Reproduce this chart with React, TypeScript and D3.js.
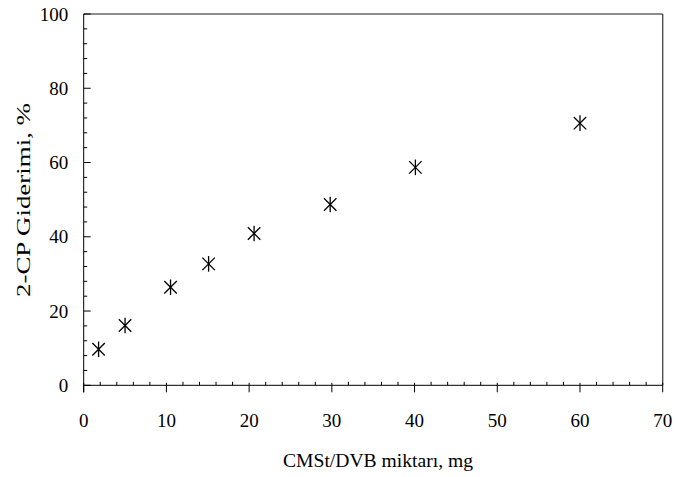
import React from "react";
import * as d3 from "d3";

const amounts = [1.8, 5, 10.5, 15.1, 20.6, 29.8, 40.1, 60];
const removal = [9.7, 16.1, 26.4, 32.7, 40.9, 48.7, 58.7, 70.6];
const xTicks = [0, 10, 20, 30, 40, 50, 60, 70];
const yTicks = [0, 20, 40, 60, 80, 100];
const xTitle = "CMSt/DVB miktarı, mg";
const yTitle = "2-CP Giderimi, %";

const W = 678, H = 477;
const L = 83.7, R = 662.7, T = 14, B = 385.3;
const FONT = "'Liberation Serif', 'Times New Roman', serif";

export default function App() {
  const x = d3.scaleLinear().domain([0, 70]).range([L, R]);
  const y = d3.scaleLinear().domain([0, 100]).range([B, T]);
  const xMinor = d3.range(0, 70.001, 2).filter((v) => Math.round(v) % 10 !== 0);
  const yMinor = d3.range(0, 100.001, 4).filter((v) => Math.round(v) % 20 !== 0);
  const s = 7.8;
  const d = s * 0.8;
  return (
    <svg width={W} height={H} style={{ position: "absolute", left: 0, top: 0, background: "#fff" }} fontFamily={FONT}>
      <rect x={0} y={0} width={W} height={H} fill="#fff" />
      <line x1={L} x2={R} y1={T} y2={T} stroke="#666" strokeWidth={1.3} />
      <line x1={R} x2={R} y1={T} y2={B} stroke="#444" strokeWidth={1.3} />
      <line x1={L} x2={R} y1={B} y2={B} stroke="#000" strokeWidth={1} />
      <line x1={L} x2={L} y1={T} y2={B + 7} stroke="#000" strokeWidth={1} />
      {xMinor.map((v) => (
        <line key={"xm" + v} x1={x(v)} x2={x(v)} y1={B} y2={B - 3.5} stroke="#000" />
      ))}
      {xTicks.map((v) => (
        <g key={"xt" + v}>
          <line x1={x(v)} x2={x(v)} y1={B - 2.5} y2={B + 7} stroke="#000" />
          <text x={x(v)} y={426.7} textAnchor="middle" fontSize={19}>{v}</text>
        </g>
      ))}
      {yMinor.map((v) => (
        <line key={"ym" + v} x1={L} x2={L + 3.5} y1={y(v)} y2={y(v)} stroke="#000" />
      ))}
      {yTicks.map((v) => (
        <g key={"yt" + v}>
          <line x1={L} x2={L + 7} y1={y(v)} y2={y(v)} stroke="#000" />
          <text x={68.3} y={y(v) + 6.5} textAnchor="end" fontSize={19}>{v}</text>
        </g>
      ))}
      {amounts.map((a, i) => {
        const cx = x(a), cy = y(removal[i]);
        return (
          <g key={"p" + i} stroke="#000" strokeWidth={1.3}>
            <line x1={cx} x2={cx} y1={cy - s} y2={cy + s} />
            <line x1={cx - d} x2={cx + d} y1={cy - d} y2={cy + d} />
            <line x1={cx - d} x2={cx + d} y1={cy + d} y2={cy - d} />
          </g>
        );
      })}
      <text x={378} y={466.7} textAnchor="middle" fontSize={19} textLength={190} lengthAdjust="spacingAndGlyphs">{xTitle}</text>
      <text transform={`translate(30,200) rotate(-90)`} textAnchor="middle" fontSize={19} textLength={194} lengthAdjust="spacingAndGlyphs">{yTitle}</text>
    </svg>
  );
}
